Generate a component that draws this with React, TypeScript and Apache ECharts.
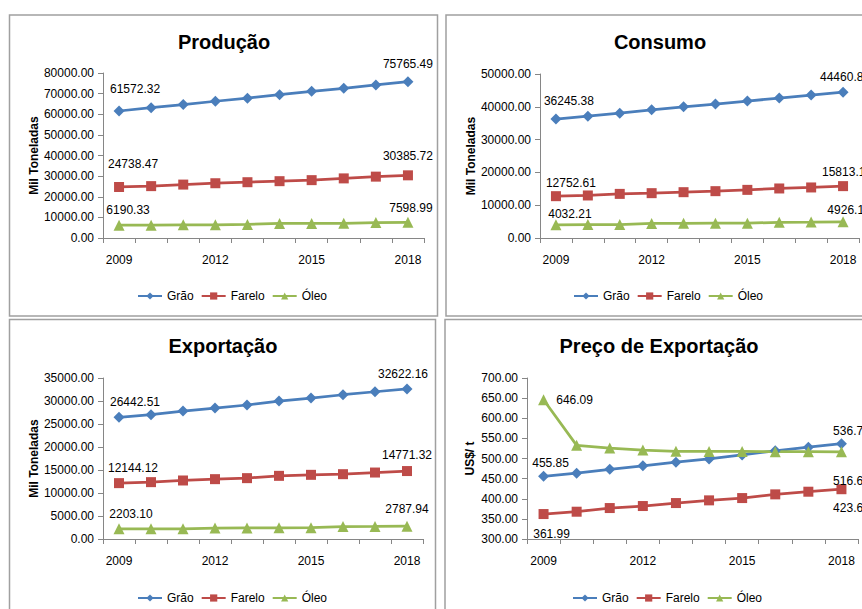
import { useEffect, useRef } from 'react';
import * as echarts from 'echarts';

const years = ['2009', '2010', '2011', '2012', '2013', '2014', '2015', '2016', '2017', '2018'];
const seriesNames = ['Grão', 'Farelo', 'Óleo'];

const producaoGrao = [61572.32, 63200, 64700, 66300, 67800, 69500, 71100, 72600, 74200, 75765.49];
const producaoFarelo = [24738.47, 25150, 25900, 26550, 27050, 27550, 28050, 28900, 29750, 30385.72];
const producaoOleo = [6190.33, 6220, 6380, 6420, 6600, 7050, 7080, 7120, 7500, 7598.99];

const consumoGrao = [36245.38, 37150, 38070, 39090, 40000, 40830, 41750, 42660, 43580, 44460.86];
const consumoFarelo = [12752.61, 12965, 13450, 13670, 13970, 14280, 14675, 15100, 15410, 15813.12];
const consumoOleo = [4032.21, 4080, 4090, 4450, 4480, 4500, 4520, 4800, 4850, 4926.12];

const exportGrao = [26442.51, 27020, 27820, 28470, 29130, 29990, 30650, 31360, 32010, 32622.16];
const exportFarelo = [12144.12, 12360, 12720, 13010, 13230, 13730, 13950, 14090, 14450, 14771.32];
const exportOleo = [2203.1, 2210, 2220, 2380, 2400, 2420, 2450, 2700, 2720, 2787.94];

const precoGrao = [455.85, 463.5, 473, 481.7, 490.8, 499, 509, 519, 528, 536.75];
const precoFarelo = [361.99, 367.8, 376.9, 381.9, 389.3, 396, 401.7, 410.9, 417.5, 423.67];
const precoOleo = [646.09, 532.7, 526, 521, 518, 517.5, 517.5, 517, 517, 516.63];

const titles = ['Produção', 'Consumo', 'Exportação', 'Preço de Exportação'];
const yNames = ['Mil Toneladas', 'Mil Toneladas', 'Mil Toneladas', 'US$/ t'];

const FONT = "'Liberation Sans', Arial, sans-serif";
const COLORS = ['#4A7EBB', '#BE4B48', '#98B954'];
const SYMBOLS = ['diamond', 'rect', 'triangle'];
const SYMBOL_SIZES = [11, 10, 11];

const panels = [
  {
    values: [producaoGrao, producaoFarelo, producaoOleo],
    grid: { left: 103, top: 73, width: 321, height: 165 },
    y: { min: 0, max: 80000, interval: 10000 },
    nameGap: 63,
    title: [224, 42],
    legend: [225, 285],
    box: [9.5, 15, 428, 301],
    offsets: [[[16, -22], [0, -18]], [[14, -23], [0, -19]], [[9, -15], [3, -14]]],
  },
  {
    values: [consumoGrao, consumoFarelo, consumoOleo],
    grid: { left: 540, top: 74, width: 319, height: 164 },
    y: { min: 0, max: 50000, interval: 10000 },
    nameGap: 62,
    title: [660, 42],
    legend: [661, 285],
    box: [446, 15, 430, 301],
    offsets: [[[13, -18], [2, -15]], [[15, -13], [4, -14]], [[14, -11], [6, -12]]],
  },
  {
    values: [exportGrao, exportFarelo, exportOleo],
    grid: { left: 103, top: 378, width: 320, height: 161 },
    y: { min: 0, max: 35000, interval: 5000 },
    nameGap: 63,
    title: [223, 346],
    legend: [225, 587],
    box: [9.5, 319.5, 426, 300],
    offsets: [[[16, -15], [-4, -15]], [[14, -15], [0, -16]], [[12, -15], [0, -17]]],
  },
  {
    values: [precoGrao, precoFarelo, precoOleo],
    grid: { left: 527, top: 378, width: 331, height: 161 },
    y: { min: 300, max: 700, interval: 50 },
    nameGap: 51,
    title: [659, 346],
    legend: [660, 587],
    box: [445, 319.5, 430, 300],
    offsets: [[[7, -13], [10, -13]], [[8, 20], [10, 19]], [[31, 0], [10, 29]]],
  },
];

const LEGEND_HALF_WIDTH = 93;

export default function App() {
  const ref = useRef<HTMLDivElement>(null);

  useEffect(() => {
    if (!ref.current) return;
    const chart = echarts.init(ref.current, null, { renderer: 'svg' });

    const axisLineStyle = { color: '#868686', width: 1 };

    const grids = panels.map((p) => ({ ...p.grid, containLabel: false, outerBoundsMode: 'none' }));

    const xAxes = panels.map((p, i) => ({
      type: 'category',
      gridIndex: i,
      data: years,
      boundaryGap: true,
      axisLine: { show: true, lineStyle: axisLineStyle },
      axisTick: { show: true, interval: 0, length: 5, lineStyle: axisLineStyle },
      axisLabel: { interval: 2, margin: 16, fontFamily: FONT, fontSize: 12, color: '#000' },
      splitLine: { show: false },
    }));

    const yAxes = panels.map((p, i) => ({
      type: 'value',
      gridIndex: i,
      min: p.y.min,
      max: p.y.max,
      interval: p.y.interval,
      name: yNames[i],
      nameLocation: 'middle',
      nameRotate: 90,
      nameGap: p.nameGap,
      nameTextStyle: { fontFamily: FONT, fontSize: 12, fontWeight: 'bold', color: '#000' },
      axisLine: { show: true, lineStyle: axisLineStyle },
      axisTick: { show: true, length: 5, lineStyle: axisLineStyle },
      axisLabel: {
        margin: 9,
        fontFamily: FONT,
        fontSize: 12,
        color: '#000',
        formatter: (v: number) => v.toFixed(2),
      },
      splitLine: { show: false },
    }));

    const series: any[] = [];
    panels.forEach((p, i) => {
      p.values.forEach((vals, s) => {
        const last = vals.length - 1;
        series.push({
          type: 'line',
          name: seriesNames[s],
          xAxisIndex: i,
          yAxisIndex: i,
          symbol: SYMBOLS[s],
          symbolSize: SYMBOL_SIZES[s],
          lineStyle: { color: COLORS[s], width: 2.75 },
          itemStyle: { color: COLORS[s] },
          label: {
            show: false,
            position: 'inside',
            fontFamily: FONT,
            fontSize: 12,
            color: '#000',
            formatter: (pr: any) => Number(pr.value).toFixed(2),
          },
          emphasis: { disabled: true },
          data: vals.map((v, k) => {
            if (k === 0 || k === last) {
              const off = p.offsets[s][k === 0 ? 0 : 1];
              return { value: v, label: { show: true, offset: off } };
            }
            return { value: v };
          }),
        });
      });
    });

    const legends = panels.map((p) => ({
      left: p.legend[0] - LEGEND_HALF_WIDTH,
      top: p.legend[1],
      data: seriesNames,
      itemWidth: 24,
      itemHeight: 9,
      itemGap: 7,
      selectedMode: false,
      textStyle: { fontFamily: FONT, fontSize: 12, color: '#000' },
    }));

    const graphics: any[] = [];
    panels.forEach((p, i) => {
      graphics.push({
        type: 'rect',
        shape: { x: p.box[0], y: p.box[1], width: p.box[2], height: p.box[3] },
        style: { fill: 'none', stroke: '#a0a0a0', lineWidth: 1.5 },
        silent: true,
        z: -1,
      });
      graphics.push({
        type: 'text',
        x: p.title[0],
        y: p.title[1],
        style: {
          text: titles[i],
          fontFamily: FONT,
          fontSize: 20,
          fontWeight: 'bold',
          fill: '#000',
          align: 'center',
          verticalAlign: 'middle',
        },
      });
    });

    chart.setOption({
      animation: false,
      backgroundColor: '#fff',
      grid: grids,
      xAxis: xAxes,
      yAxis: yAxes,
      legend: legends,
      series,
      graphic: graphics,
    });

    return () => chart.dispose();
  }, []);

  return (
    <div
      ref={ref}
      style={{ position: 'fixed', left: 0, top: 0, width: 862, height: 609, background: '#fff' }}
    />
  );
}
